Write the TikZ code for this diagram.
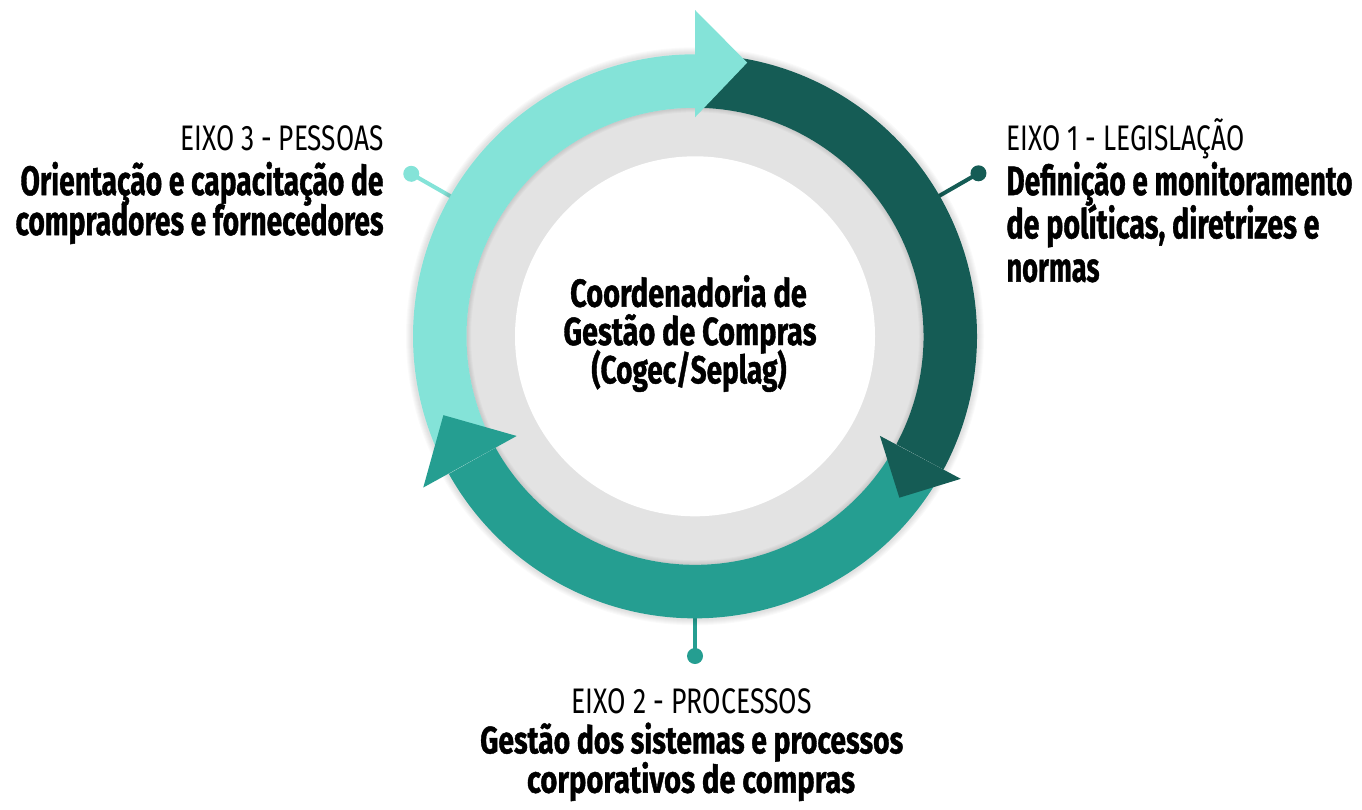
\documentclass[tikz,border=0pt]{standalone}
\usepackage{fontspec}
\usepackage{graphicx}
\setmainfont{Fira Sans}[BoldFeatures={FakeBold=1.2}]
\usetikzlibrary{calc}
\definecolor{cLight}{HTML}{84E3D8}
\definecolor{cDark}{HTML}{155C55}
\definecolor{cTeal}{HTML}{259E91}
\definecolor{cGray}{HTML}{E3E3E3}
\newcommand\fitw[2]{\setbox0=\hbox{#2}\pgfmathsetmacro\fitscale{#1/\the\wd0}\scalebox{\fitscale}[1]{\box0}}
\newcommand\rgf{\fontsize{35.5}{40}\selectfont\mdseries}
\newcommand\bdf{\fontsize{41}{43}\selectfont\bfseries}
\newcommand\bdc{\fontsize{39}{40}\selectfont\bfseries}
\newcommand\bdb{\fontsize{38}{40}\selectfont\bfseries}
\newcommand\band[3]{\fill[#1] ($(C)+(#2:282)$) arc[start angle=#2,end angle=#3,radius=282] -- ($(C)+(#3:228.5)$) arc[start angle=#3,end angle=#2,radius=228.5] -- cycle;}
\begin{document}
\begin{tikzpicture}[x=1pt,y=1pt,
  txt/.style={inner sep=0pt, outer sep=0pt, text=black},
  dotstyle/.style={circle, fill=#1, inner sep=0pt, minimum size=16pt},
  leader/.style={#1, line width=4pt}]
\useasboundingbox (0,0) rectangle (1362,-809);
\fill[white] (0,0) rectangle (1362,-809);
\coordinate (C) at (695,-336.3);
% leaders and dots
\node[dotstyle=cLight] (dL) at ($(C)+(150.2:327)$) {};
\node[dotstyle=cDark] (dD) at ($(C)+(29.9:327)$) {};
\node[dotstyle=cTeal] (dT) at ($(C)+(-90:319.7)$) {};
\coordinate (eL) at ($(C)+(150.2:265)$);
\coordinate (eD) at ($(C)+(29.9:265)$);
\coordinate (eT) at ($(C)+(-90:265)$);
\draw[leader=cLight] (eL) -- (dL.center);
\draw[leader=cDark] (eD) -- (dD.center);
\draw[leader=cTeal] (eT) -- (dT.center);
% outer soft shadow
\foreach \w in {2,4,...,12} {\draw[black,opacity=0.018,line width=\w pt] (C) circle[radius=283];}
% gray ring and inner white disc
\fill[cGray] (C) circle[radius=228.5];
\foreach \w in {2,4,...,10} {\draw[black,opacity=0.022,line width=\w pt] (C) circle[radius=229];}
\fill[white] (C) circle[radius=180];
% bands
\band{cLight}{90}{204}
\band{cDark}{88}{-28.2}
\band{cTeal}{-31}{-150.8}
% arrowheads
\fill[cLight] ($(C)+(90:219)$) -- ($(C)+(90:326.3)$) -- ($(C)+(79.2:278.6)$) -- cycle;
\fill[cDark] ($(C)+(-28.3:210)$) -- ($(C)+(-28.2:301.6)$) -- ($(C)+(-38.3:260.4)$) -- cycle;
\fill[cTeal] ($(C)+(209.2:204.3)$) -- ($(C)+(209.1:311)$) -- ($(C)+(197.4:263.7)$) -- cycle;
% left block
\node[txt, anchor=base east] (l1) at (383.5,-150) {\rgf\fitw{203}{EIXO 3 - PESSOAS}};
\node[txt, anchor=base east] (l2) at (383.5,-195) {\bdf\fitw{363}{Orientação e capacitação de}};
\node[txt, anchor=base east] (l3) at (383.5,-235) {\bdf\fitw{368}{compradores e fornecedores}};
% right block
\node[txt, anchor=base west] (r1) at (1006.5,-150.5) {\rgf\fitw{238}{EIXO 1 - LEGISLAÇÃO}};
\node[txt, anchor=base west] (r2) at (1006.5,-195) {\bdf\fitw{346}{Definição e monitoramento}};
\node[txt, anchor=base west] (r3) at (1006.5,-238.3) {\bdf\fitw{313}{de políticas, diretrizes e}};
\node[txt, anchor=base west] (r4) at (1006.5,-281.7) {\bdf\fitw{93}{normas}};
% center block
\node[txt, anchor=base] (c1) at (688.5,-306.7) {\bdc\fitw{236.7}{Coordenadoria de}};
\node[txt, anchor=base] (c2) at (690,-345) {\bdc\fitw{253}{Gestão de Compras}};
\node[txt, anchor=base] (c3) at (689,-383.3) {\bdc\fitw{195}{(Cogec/Seplag)}};
% bottom block
\node[txt, anchor=base] (b1) at (691.7,-713.3) {\rgf\fitw{240}{EIXO 2 - PROCESSOS}};
\node[txt, anchor=base] (b2) at (691.7,-753.3) {\bdb\fitw{423}{Gestão dos sistemas e processos}};
\node[txt, anchor=base] (b3) at (691,-792.7) {\bdb\fitw{328}{corporativos de compras}};
\end{tikzpicture}
\end{document}
